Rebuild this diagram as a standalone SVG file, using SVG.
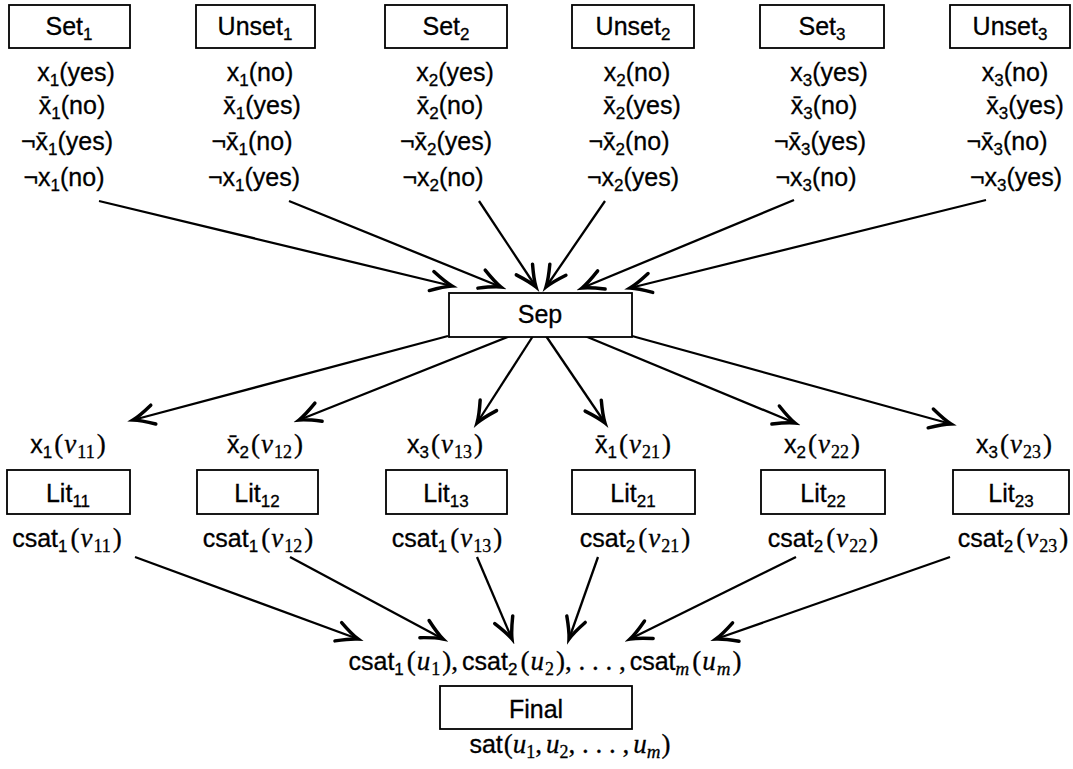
<svg xmlns="http://www.w3.org/2000/svg" width="1073" height="769" viewBox="0 0 1073 769">
<style>
.t{font-family:"Liberation Sans",Arial,sans-serif;font-size:25px;fill:#000;stroke:#000;stroke-width:0.3}
.s{font-size:17px}
.p{font-family:"Liberation Serif",serif;font-size:27px}
.m{font-family:"Liberation Serif",serif;font-style:italic;font-size:27px}
.ms{font-family:"Liberation Serif",serif;font-style:normal;font-size:18px}
.mi{font-family:"Liberation Serif",serif;font-style:italic;font-size:19px}
.box{fill:#fff;stroke:#000;stroke-width:1.8}
.c{stroke:#000;stroke-width:2.3;fill:none;marker-end:url(#ah)}
</style>
<defs>
<marker id="ah" markerUnits="userSpaceOnUse" markerWidth="30" markerHeight="30" viewBox="-16 -10 20 20" refX="0" refY="0" orient="auto">
<path d="M-14,-6.5 Q-5,-1.5 0,0 Q-5,1.5 -14,6.5" fill="none" stroke="#000" stroke-width="2.3" stroke-linecap="round"/>
</marker>
</defs>
<rect width="1073" height="769" fill="#fff"/>

<g id="connectors">
<line class="c" x1="99" y1="201" x2="452" y2="286"/>
<line class="c" x1="289" y1="201" x2="501" y2="287"/>
<line class="c" x1="479" y1="201" x2="536" y2="287"/>
<line class="c" x1="605" y1="201" x2="546" y2="287"/>
<line class="c" x1="794" y1="200" x2="582" y2="288"/>
<line class="c" x1="986" y1="200" x2="630" y2="288"/>

<line class="c" x1="448" y1="336" x2="133" y2="420"/>
<line class="c" x1="510" y1="336" x2="299" y2="420"/>
<line class="c" x1="533" y1="336" x2="477" y2="423"/>
<line class="c" x1="546" y1="336" x2="605" y2="423"/>
<line class="c" x1="585" y1="336" x2="795" y2="423"/>
<line class="c" x1="632" y1="336" x2="951" y2="424"/>

<line class="c" x1="135" y1="557" x2="358" y2="639"/>
<line class="c" x1="290" y1="557" x2="443" y2="639"/>
<line class="c" x1="477" y1="557" x2="512" y2="639"/>
<line class="c" x1="598" y1="557" x2="569" y2="639"/>
<line class="c" x1="796" y1="557" x2="630" y2="639"/>
<line class="c" x1="950" y1="557" x2="716" y2="639"/>
</g>

<g id="set1">
<rect class="box" x="9" y="5" width="121" height="43"/>
<text class="t" x="69" y="35" text-anchor="middle">Set<tspan class="s" dy="5">1</tspan></text>
<text class="t" x="76" y="81" text-anchor="middle">x<tspan class="s" dy="5">1</tspan><tspan dy="-5">(yes)</tspan></text>
<text class="t" x="72" y="114" text-anchor="middle">x&#x304;<tspan class="s" dy="5">1</tspan><tspan dy="-5">(no)</tspan></text>
<text class="t" x="67" y="150" text-anchor="middle">¬x&#x304;<tspan class="s" dy="5">1</tspan><tspan dy="-5">(yes)</tspan></text>
<text class="t" x="64" y="186" text-anchor="middle">¬x<tspan class="s" dy="5">1</tspan><tspan dy="-5">(no)</tspan></text>
</g>

<g id="unset1">
<rect class="box" x="196" y="5" width="119" height="43"/>
<text class="t" x="255" y="35" text-anchor="middle">Unset<tspan class="s" dy="5">1</tspan></text>
<text class="t" x="260" y="81" text-anchor="middle">x<tspan class="s" dy="5">1</tspan><tspan dy="-5">(no)</tspan></text>
<text class="t" x="262" y="114" text-anchor="middle">x&#x304;<tspan class="s" dy="5">1</tspan><tspan dy="-5">(yes)</tspan></text>
<text class="t" x="252" y="150" text-anchor="middle">¬x&#x304;<tspan class="s" dy="5">1</tspan><tspan dy="-5">(no)</tspan></text>
<text class="t" x="254" y="186" text-anchor="middle">¬x<tspan class="s" dy="5">1</tspan><tspan dy="-5">(yes)</tspan></text>
</g>

<g id="set2">
<rect class="box" x="385" y="5" width="122" height="43"/>
<text class="t" x="446" y="35" text-anchor="middle">Set<tspan class="s" dy="5">2</tspan></text>
<text class="t" x="455" y="81" text-anchor="middle">x<tspan class="s" dy="5">2</tspan><tspan dy="-5">(yes)</tspan></text>
<text class="t" x="450" y="114" text-anchor="middle">x&#x304;<tspan class="s" dy="5">2</tspan><tspan dy="-5">(no)</tspan></text>
<text class="t" x="446" y="150" text-anchor="middle">¬x&#x304;<tspan class="s" dy="5">2</tspan><tspan dy="-5">(yes)</tspan></text>
<text class="t" x="443" y="186" text-anchor="middle">¬x<tspan class="s" dy="5">2</tspan><tspan dy="-5">(no)</tspan></text>
</g>

<g id="unset2">
<rect class="box" x="572" y="5" width="122" height="43"/>
<text class="t" x="633" y="35" text-anchor="middle">Unset<tspan class="s" dy="5">2</tspan></text>
<text class="t" x="637" y="81" text-anchor="middle">x<tspan class="s" dy="5">2</tspan><tspan dy="-5">(no)</tspan></text>
<text class="t" x="642" y="114" text-anchor="middle">x&#x304;<tspan class="s" dy="5">2</tspan><tspan dy="-5">(yes)</tspan></text>
<text class="t" x="629" y="150" text-anchor="middle">¬x&#x304;<tspan class="s" dy="5">2</tspan><tspan dy="-5">(no)</tspan></text>
<text class="t" x="633" y="186" text-anchor="middle">¬x<tspan class="s" dy="5">2</tspan><tspan dy="-5">(yes)</tspan></text>
</g>

<g id="set3">
<rect class="box" x="760" y="5" width="124" height="43"/>
<text class="t" x="822" y="35" text-anchor="middle">Set<tspan class="s" dy="5">3</tspan></text>
<text class="t" x="829" y="81" text-anchor="middle">x<tspan class="s" dy="5">3</tspan><tspan dy="-5">(yes)</tspan></text>
<text class="t" x="824" y="114" text-anchor="middle">x&#x304;<tspan class="s" dy="5">3</tspan><tspan dy="-5">(no)</tspan></text>
<text class="t" x="820" y="150" text-anchor="middle">¬x&#x304;<tspan class="s" dy="5">3</tspan><tspan dy="-5">(yes)</tspan></text>
<text class="t" x="816" y="186" text-anchor="middle">¬x<tspan class="s" dy="5">3</tspan><tspan dy="-5">(no)</tspan></text>
</g>

<g id="unset3">
<rect class="box" x="950" y="5" width="120" height="43"/>
<text class="t" x="1010" y="35" text-anchor="middle">Unset<tspan class="s" dy="5">3</tspan></text>
<text class="t" x="1015" y="81" text-anchor="middle">x<tspan class="s" dy="5">3</tspan><tspan dy="-5">(no)</tspan></text>
<text class="t" x="1025" y="114" text-anchor="middle">x&#x304;<tspan class="s" dy="5">3</tspan><tspan dy="-5">(yes)</tspan></text>
<text class="t" x="1007" y="150" text-anchor="middle">¬x&#x304;<tspan class="s" dy="5">3</tspan><tspan dy="-5">(no)</tspan></text>
<text class="t" x="1016" y="186" text-anchor="middle">¬x<tspan class="s" dy="5">3</tspan><tspan dy="-5">(yes)</tspan></text>
</g>

<g id="sep">
<rect class="box" x="449" y="293" width="183" height="44"/>
<text class="t" x="540" y="323" text-anchor="middle">Sep</text>
</g>

<g id="lit11">
<text class="t" x="68" y="453" text-anchor="middle">x<tspan class="s" dy="5">1</tspan><tspan class="p" dy="-5" dx="2">(</tspan><tspan class="m" dx="1">v</tspan><tspan class="ms" dy="5" dx="1">11</tspan><tspan class="p" dy="-5" dx="2">)</tspan></text>
<rect class="box" x="7" y="470" width="123" height="44"/>
<text class="t" x="68" y="502" text-anchor="middle">Lit<tspan class="s" dy="5">11</tspan></text>
<text class="t" x="67" y="547" text-anchor="middle">csat<tspan class="s" dy="5">1</tspan><tspan class="p" dy="-5" dx="3">(</tspan><tspan class="m" dx="1">v</tspan><tspan class="ms" dy="5" dx="1">11</tspan><tspan class="p" dy="-5" dx="2">)</tspan></text>
</g>

<g id="lit12">
<text class="t" x="265" y="453" text-anchor="middle">x&#x304;<tspan class="s" dy="5">2</tspan><tspan class="p" dy="-5" dx="2">(</tspan><tspan class="m" dx="1">v</tspan><tspan class="ms" dy="5" dx="1">12</tspan><tspan class="p" dy="-5" dx="2">)</tspan></text>
<rect class="box" x="197" y="470" width="121" height="44"/>
<text class="t" x="257" y="502" text-anchor="middle">Lit<tspan class="s" dy="5">12</tspan></text>
<text class="t" x="258" y="547" text-anchor="middle">csat<tspan class="s" dy="5">1</tspan><tspan class="p" dy="-5" dx="3">(</tspan><tspan class="m" dx="1">v</tspan><tspan class="ms" dy="5" dx="1">12</tspan><tspan class="p" dy="-5" dx="2">)</tspan></text>
</g>

<g id="lit13">
<text class="t" x="445" y="453" text-anchor="middle">x<tspan class="s" dy="5">3</tspan><tspan class="p" dy="-5" dx="2">(</tspan><tspan class="m" dx="1">v</tspan><tspan class="ms" dy="5" dx="1">13</tspan><tspan class="p" dy="-5" dx="2">)</tspan></text>
<rect class="box" x="386" y="470" width="121" height="44"/>
<text class="t" x="446" y="502" text-anchor="middle">Lit<tspan class="s" dy="5">13</tspan></text>
<text class="t" x="447" y="547" text-anchor="middle">csat<tspan class="s" dy="5">1</tspan><tspan class="p" dy="-5" dx="3">(</tspan><tspan class="m" dx="1">v</tspan><tspan class="ms" dy="5" dx="1">13</tspan><tspan class="p" dy="-5" dx="2">)</tspan></text>
</g>

<g id="lit21">
<text class="t" x="633" y="453" text-anchor="middle">x&#x304;<tspan class="s" dy="5">1</tspan><tspan class="p" dy="-5" dx="2">(</tspan><tspan class="m" dx="1">v</tspan><tspan class="ms" dy="5" dx="1">21</tspan><tspan class="p" dy="-5" dx="2">)</tspan></text>
<rect class="box" x="572" y="470" width="123" height="44"/>
<text class="t" x="633" y="502" text-anchor="middle">Lit<tspan class="s" dy="5">21</tspan></text>
<text class="t" x="635" y="547" text-anchor="middle">csat<tspan class="s" dy="5">2</tspan><tspan class="p" dy="-5" dx="3">(</tspan><tspan class="m" dx="1">v</tspan><tspan class="ms" dy="5" dx="1">21</tspan><tspan class="p" dy="-5" dx="2">)</tspan></text>
</g>

<g id="lit22">
<text class="t" x="822" y="453" text-anchor="middle">x<tspan class="s" dy="5">2</tspan><tspan class="p" dy="-5" dx="2">(</tspan><tspan class="m" dx="1">v</tspan><tspan class="ms" dy="5" dx="1">22</tspan><tspan class="p" dy="-5" dx="2">)</tspan></text>
<rect class="box" x="761" y="470" width="124" height="44"/>
<text class="t" x="823" y="502" text-anchor="middle">Lit<tspan class="s" dy="5">22</tspan></text>
<text class="t" x="823" y="547" text-anchor="middle">csat<tspan class="s" dy="5">2</tspan><tspan class="p" dy="-5" dx="3">(</tspan><tspan class="m" dx="1">v</tspan><tspan class="ms" dy="5" dx="1">22</tspan><tspan class="p" dy="-5" dx="2">)</tspan></text>
</g>

<g id="lit23">
<text class="t" x="1014" y="453" text-anchor="middle">x<tspan class="s" dy="5">3</tspan><tspan class="p" dy="-5" dx="2">(</tspan><tspan class="m" dx="1">v</tspan><tspan class="ms" dy="5" dx="1">23</tspan><tspan class="p" dy="-5" dx="2">)</tspan></text>
<rect class="box" x="953" y="470" width="116" height="44"/>
<text class="t" x="1011" y="502" text-anchor="middle">Lit<tspan class="s" dy="5">23</tspan></text>
<text class="t" x="1013" y="547" text-anchor="middle">csat<tspan class="s" dy="5">2</tspan><tspan class="p" dy="-5" dx="3">(</tspan><tspan class="m" dx="1">v</tspan><tspan class="ms" dy="5" dx="1">23</tspan><tspan class="p" dy="-5" dx="2">)</tspan></text>
</g>

<g id="final">
<text class="t" x="545" y="670" text-anchor="middle">csat<tspan class="s" dy="5">1</tspan><tspan class="p" dy="-5" dx="3">(</tspan><tspan class="m" dx="1">u</tspan><tspan class="ms" dy="5" dx="1">1</tspan><tspan class="p" dy="-5" dx="2">),</tspan><tspan dx="4">csat</tspan><tspan class="s" dy="5">2</tspan><tspan class="p" dy="-5" dx="3">(</tspan><tspan class="m" dx="1">u</tspan><tspan class="ms" dy="5" dx="1">2</tspan><tspan class="p" dy="-5" dx="2">), . . . ,</tspan><tspan dx="4">csat</tspan><tspan class="mi" dy="5">m</tspan><tspan class="p" dy="-5" dx="3">(</tspan><tspan class="m" dx="1">u</tspan><tspan class="mi" dy="5" dx="1">m</tspan><tspan class="p" dy="-5" dx="2">)</tspan></text>
<rect class="box" x="440" y="686" width="192" height="43"/>
<text class="t" x="536" y="718" text-anchor="middle">Final</text>
<text class="t" x="570" y="753" text-anchor="middle">sat<tspan class="p" dx="1">(</tspan><tspan class="m">u</tspan><tspan class="ms" dy="5">1</tspan><tspan class="p" dy="-5">,</tspan><tspan class="m" dx="4">u</tspan><tspan class="ms" dy="5">2</tspan><tspan class="p" dy="-5">, . . . ,</tspan><tspan class="m" dx="4">u</tspan><tspan class="mi" dy="5">m</tspan><tspan class="p" dy="-5" dx="1">)</tspan></text>
</g>
</svg>
